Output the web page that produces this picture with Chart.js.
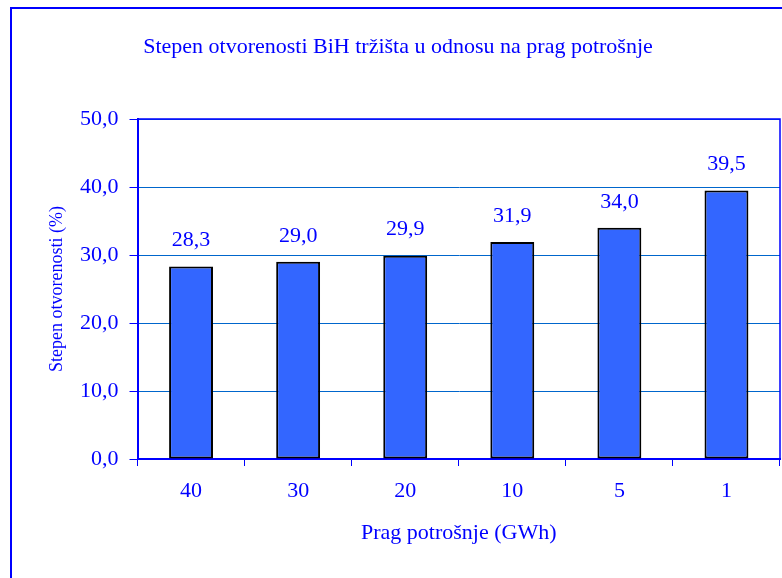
<!DOCTYPE html>
<html>
<head>
<meta charset="utf-8">
<script src="https://cdn.jsdelivr.net/npm/chart.js@4"></script>
<style>
    html, body { margin: 0; padding: 0; background: #fff; overflow: hidden; }
    #wrap { position: relative; width: 782px; height: 578px; }
    #frame { position: absolute; left: 10px; top: 7px; width: 800px; height: 600px; border: 2px solid #0000ff; box-sizing: border-box; }
    canvas { position: absolute; left: 0; top: 0; }
</style>
</head>
<body>
<div id="wrap">
    <div id="frame"></div>
    <canvas id="chart" width="782" height="578"></canvas>
</div>
<script>
const categories = ["40", "30", "20", "10", "5", "1"];
const openness = [28.3, 29.0, 29.9, 31.9, 34.0, 39.5];
const yTicks = [0, 10, 20, 30, 40, 50];

const BLUE = "#0000ff";
const FONT = "'Liberation Serif', 'Times New Roman', serif";

function fmt(v) {
    return v.toFixed(1).replace(".", ",");
}

// values above each bar + the plot frame
const barLabels = {
    id: "barLabels",
    afterDatasetsDraw(chart) {
        const ctx = chart.ctx;
        const area = chart.chartArea;
        ctx.save();
        ctx.strokeStyle = BLUE;
        ctx.lineWidth = 1.5;
        ctx.beginPath();
        ctx.moveTo(area.left, area.top);
        ctx.lineTo(area.right, area.top);
        ctx.lineTo(area.right, area.bottom);
        ctx.stroke();

        ctx.fillStyle = BLUE;
        ctx.font = "22px " + FONT;
        ctx.textAlign = "center";
        ctx.textBaseline = "middle";
        chart.getDatasetMeta(0).data.forEach((bar, i) => {
            ctx.fillText(fmt(openness[i]), bar.x, bar.y - 26);
        });
        ctx.restore();
    }
};

new Chart(document.getElementById("chart"), {
    type: "bar",
    data: {
        labels: categories,
        datasets: [{
            data: openness,
            backgroundColor: "#3366ff",
            borderColor: "#000000",
            borderWidth: 2,
            borderSkipped: false,
            categoryPercentage: 1,
            barPercentage: 0.41
        }]
    },
    options: {
        responsive: false,
        animation: false,
        layout: { padding: { left: 16, right: 2, top: 0, bottom: 0 } },
        plugins: {
            legend: { display: false },
            tooltip: { enabled: false },
            title: {
                display: true,
                text: "Stepen otvorenosti BiH tržišta u odnosu na prag potrošnje",
                color: BLUE,
                font: { family: FONT, size: 22, weight: "normal", lineHeight: 1.2 },
                padding: { top: 34, bottom: 58.6 }
            }
        },
        scales: {
            x: {
                afterFit(scale) { scale.height = 119; },
                grid: { offset: true, drawOnChartArea: false, drawTicks: true, tickLength: 7, tickColor: BLUE },
                border: { color: BLUE, width: 2 },
                ticks: { color: BLUE, font: { family: FONT, size: 22 }, padding: 12 },
                title: {
                    display: true,
                    text: "Prag potrošnje (GWh)",
                    color: BLUE,
                    font: { family: FONT, size: 22, lineHeight: 1.2 },
                    padding: { top: 0, bottom: 32 }
                }
            },
            y: {
                min: 0,
                max: 50,
                afterFit(scale) { scale.width = 121.5; },
                afterBuildTicks(scale) { scale.ticks = yTicks.map(v => ({ value: v })); },
                grid: { color: "#0066cc", lineWidth: 1, tickLength: 8, tickColor: BLUE },
                border: { color: BLUE, width: 2 },
                ticks: {
                    color: BLUE,
                    font: { family: FONT, size: 22 },
                    padding: 11,
                    callback: v => fmt(v)
                },
                title: {
                    display: true,
                    text: "Stepen otvorenosti (%)",
                    color: BLUE,
                    font: { family: FONT, size: 18, lineHeight: 1.2 },
                    padding: { top: 30, bottom: 0 }
                }
            }
        }
    },
    plugins: [barLabels]
});
</script>
</body>
</html>
